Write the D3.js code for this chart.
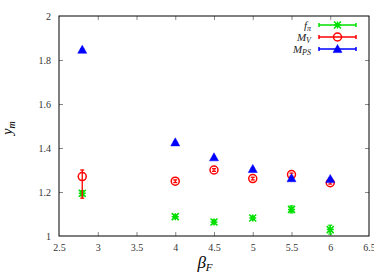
<!DOCTYPE html>
<html><head><meta charset="utf-8">
<script src="https://cdn.jsdelivr.net/npm/d3@7"></script>
<style>body{margin:0;background:#fff}svg{display:block}text{font-family:"Liberation Serif","Times New Roman","DejaVu Serif",serif}</style>
</head><body>
<script>
const betaF = [2.8, 4.0, 4.5, 5.0, 5.5, 6.0];
const fpi = [1.194, 1.088, 1.064, 1.082, 1.121, 1.029];
const fpiLo = [0.012, 0.008, 0.009, 0.008, 0.016, 0.02];
const fpiHi = [0.012, 0.008, 0.009, 0.008, 0.016, 0.02];
const MV = [1.270, 1.249, 1.300, 1.261, 1.279, 1.242];
const MVLo = [0.098, 0.006, 0.006, 0.006, 0.007, 0.006];
const MVHi = [0.030, 0.006, 0.006, 0.006, 0.007, 0.006];
const MPS = [1.847, 1.426, 1.358, 1.305, 1.263, 1.259];
const MPSLo = [0.004, 0.003, 0.003, 0.003, 0.004, 0.004];
const MPSHi = [0.004, 0.003, 0.003, 0.003, 0.004, 0.004];
const xTicks = [2.5, 3, 3.5, 4, 4.5, 5, 5.5, 6, 6.5];
const yTicks = [1, 1.2, 1.4, 1.6, 1.8, 2];

const W = 374, H = 275;
const m = {l: 59, r: 5, t: 16, b: 39};
const FONT = '"Liberation Serif", "Times New Roman", serif';
const svg = d3.select("body").append("svg").attr("width", W).attr("height", H);
const x = d3.scaleLinear().domain([2.5, 6.5]).range([m.l, W - m.r]);
const y = d3.scaleLinear().domain([1, 2]).range([H - m.b, m.t]);

const tickLen = 4;
const gB = svg.append("g").attr("transform", `translate(0,${H - m.b})`)
  .call(d3.axisBottom(x).tickValues(xTicks).tickFormat(d3.format("")).tickSize(-tickLen).tickPadding(8));
const gT = svg.append("g").attr("transform", `translate(0,${m.t})`)
  .call(d3.axisTop(x).tickValues(xTicks).tickFormat("").tickSize(-tickLen));
const gL = svg.append("g").attr("transform", `translate(${m.l},0)`)
  .call(d3.axisLeft(y).tickValues(yTicks).tickFormat(d3.format("")).tickSize(-tickLen).tickPadding(8));
const gR = svg.append("g").attr("transform", `translate(${W - m.r},0)`)
  .call(d3.axisRight(y).tickValues(yTicks).tickFormat("").tickSize(-tickLen));
[gB, gT, gL, gR].forEach(g => {
  g.attr("font-family", null).style("font-family", FONT);
  g.select(".domain").remove();
  g.selectAll(".tick line").attr("stroke", "#888");
  g.selectAll(".tick text").attr("font-size", 10).attr("fill", "#333")
    .style("font-family", FONT);
});
gT.selectAll(".tick").filter(d => d === 2.5 || d === 6.5).remove();
gB.selectAll(".tick line").filter(d => d === 2.5 || d === 6.5).remove();
gL.selectAll(".tick line").filter(d => d === 1 || d === 2).remove();
gR.selectAll(".tick").filter(d => d === 1 || d === 2).remove();

svg.append("rect").attr("x", m.l).attr("y", m.t)
  .attr("width", W - m.r - m.l).attr("height", H - m.b - m.t)
  .attr("fill", "none").attr("stroke", "#000").attr("stroke-width", 1);

svg.append("text").attr("transform", `translate(12,128) rotate(-90)`)
  .attr("text-anchor", "middle").attr("font-size", 14).attr("font-style", "italic")
  .style("font-family", FONT)
  .html('y<tspan font-size="10" dy="3">m</tspan>');
svg.append("text").attr("x", 205).attr("y", 268)
  .attr("text-anchor", "middle").attr("font-size", 17).attr("font-style", "italic")
  .style("font-family", FONT)
  .html('β<tspan font-size="11" dy="3">F</tspan>');

const series = [
  {name: "f", sub: "π", vals: fpi, lo: fpiLo, hi: fpiHi, color: "#00e000", shape: "star"},
  {name: "M", sub: "V", vals: MV, lo: MVLo, hi: MVHi, color: "#ff0000", shape: "circle"},
  {name: "M", sub: "PS", vals: MPS, lo: MPSLo, hi: MPSHi, color: "#0000ff", shape: "tri"}
];

function marker(g, shape, color, cx, cy) {
  if (shape === "star") {
    const s = 3.5;
    const p = `M${cx - s},${cy}H${cx + s}M${cx},${cy - s}V${cy + s}M${cx - s},${cy - s}L${cx + s},${cy + s}M${cx - s},${cy + s}L${cx + s},${cy - s}`;
    g.append("path").attr("d", p).attr("stroke", color).attr("stroke-width", 1.5).attr("fill", "none");
  } else if (shape === "circle") {
    g.append("circle").attr("cx", cx).attr("cy", cy).attr("r", 4)
      .attr("fill", "none").attr("stroke", color).attr("stroke-width", 1.5);
  } else {
    const s = 4.5;
    g.append("path").attr("d", `M${cx},${cy - s}L${cx + s},${cy + s * 0.8}L${cx - s},${cy + s * 0.8}Z`)
      .attr("fill", color).attr("stroke", color).attr("stroke-width", 0.5);
  }
}

series.forEach(s => {
  const g = svg.append("g");
  betaF.forEach((b, i) => {
    const cx = x(b), y1 = y(s.vals[i] + s.hi[i]), y2 = y(s.vals[i] - s.lo[i]);
    g.append("line").attr("x1", cx).attr("x2", cx).attr("y1", y1).attr("y2", y2)
      .attr("stroke", s.color).attr("stroke-width", 1.3);
    [y1, y2].forEach(yy => g.append("line").attr("x1", cx - 2).attr("x2", cx + 2)
      .attr("y1", yy).attr("y2", yy).attr("stroke", s.color).attr("stroke-width", 1.3));
    marker(g, s.shape, s.color, cx, y(s.vals[i]));
  });
});

const lg = svg.append("g");
series.forEach((s, i) => {
  const yy = 25 + i * 12;
  lg.append("text").attr("x", 311).attr("y", yy + 4).attr("text-anchor", "end")
    .attr("font-size", 11).attr("font-style", "italic").attr("fill", "#222")
    .style("font-family", FONT)
    .html(`${s.name}<tspan font-size="8" dy="2">${s.sub}</tspan>`);
  lg.append("line").attr("x1", 319).attr("x2", 356).attr("y1", yy).attr("y2", yy)
    .attr("stroke", s.color).attr("stroke-width", 1.5);
  [319, 356].forEach(xx => lg.append("line").attr("x1", xx).attr("x2", xx)
    .attr("y1", yy - 2).attr("y2", yy + 2).attr("stroke", s.color).attr("stroke-width", 1.5));
  marker(lg, s.shape, s.color, 337.5, yy);
});
</script>
</body></html>
